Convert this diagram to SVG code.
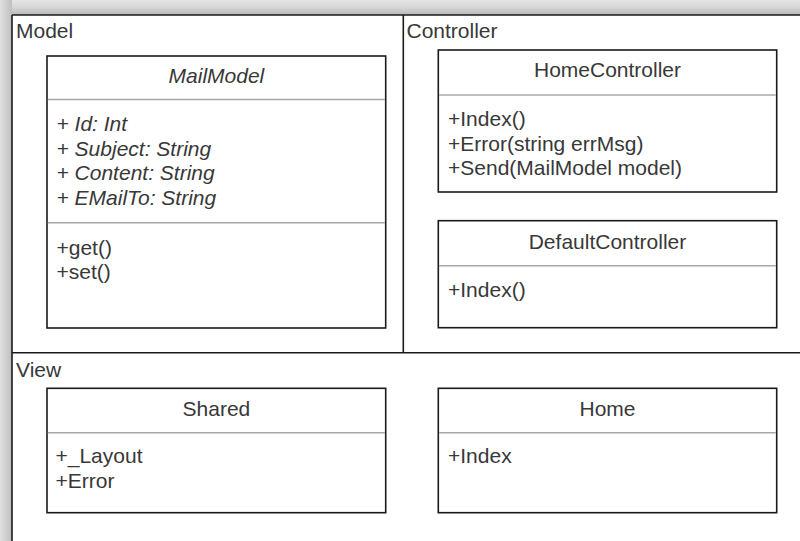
<svg xmlns="http://www.w3.org/2000/svg" width="800" height="541" viewBox="0 0 800 541">
  <defs>
    <linearGradient id="shTop" x1="0" y1="0" x2="0" y2="1">
      <stop offset="0" stop-color="#e4e4e4"/>
      <stop offset="0.5" stop-color="#d6d6d6"/>
      <stop offset="1" stop-color="#b8b8b8"/>
    </linearGradient>
    <linearGradient id="shLeft" x1="0" y1="0" x2="1" y2="0">
      <stop offset="0" stop-color="#e0e0e0"/>
      <stop offset="0.55" stop-color="#cecece"/>
      <stop offset="1" stop-color="#bebebe"/>
    </linearGradient>
  </defs>
  <style>
    .frame { fill: none; stroke: #1a1a1a; stroke-width: 1.6; }
    .box { fill: #ffffff; stroke: #1a1a1a; stroke-width: 1.6; }
    .sep { stroke: #a8a8a8; stroke-width: 1.6; }
    text { font-family: "Liberation Sans", Arial, sans-serif; font-size: 21px; fill: #383838; }
    .title { text-anchor: middle; }
    .it { font-style: italic; }
  </style>
  <rect x="0" y="0" width="800" height="541" fill="#ffffff"/>
  <rect x="0" y="0" width="800" height="15" fill="url(#shTop)"/>
  <rect x="0" y="0" width="12" height="541" fill="url(#shLeft)"/>

  <g id="frames">
    <line class="frame" x1="12" y1="15" x2="800" y2="15"/>
    <line class="frame" x1="12" y1="15" x2="12" y2="541"/>
    <line class="frame" x1="403.3" y1="15" x2="403.3" y2="352.7"/>
    <line class="frame" x1="12" y1="352.7" x2="800" y2="352.7"/>
  </g>

  <g id="pkg-model"><text x="16" y="37.5">Model</text></g>
  <g id="pkg-controller"><text x="406.5" y="37.5">Controller</text></g>
  <g id="pkg-view"><text x="16" y="376.5">View</text></g>

  <g id="MailModel">
    <rect class="box" x="47" y="56" width="338.7" height="272"/>
    <line class="sep" x1="47.8" y1="99.5" x2="384.9" y2="99.5"/>
    <line class="sep" x1="47.8" y1="222.7" x2="384.9" y2="222.7"/>
    <text class="title it" x="216.4" y="83">MailModel</text>
    <text class="it" x="56.5" y="131">+ Id: Int</text>
    <text class="it" x="56.5" y="155.5">+ Subject: String</text>
    <text class="it" x="56.5" y="180">+ Content: String</text>
    <text class="it" x="56.5" y="204.5">+ EMailTo: String</text>
    <text x="56.5" y="254.5">+get()</text>
    <text x="56.5" y="279">+set()</text>
  </g>

  <g id="HomeController">
    <rect class="box" x="438.3" y="50" width="338.4" height="142"/>
    <line class="sep" x1="439.1" y1="95" x2="775.9" y2="95"/>
    <text class="title" x="607.5" y="77">HomeController</text>
    <text x="448" y="126">+Index()</text>
    <text x="448" y="150.5">+Error(string errMsg)</text>
    <text x="448" y="175">+Send(MailModel model)</text>
  </g>

  <g id="DefaultController">
    <rect class="box" x="438.3" y="220.7" width="338.4" height="107"/>
    <line class="sep" x1="439.1" y1="265.7" x2="775.9" y2="265.7"/>
    <text class="title" x="607.5" y="249">DefaultController</text>
    <text x="448" y="297.3">+Index()</text>
  </g>

  <g id="Shared">
    <rect class="box" x="47" y="388.3" width="338.7" height="124.4"/>
    <line class="sep" x1="47.8" y1="432.7" x2="384.9" y2="432.7"/>
    <text class="title" x="216.4" y="415.7">Shared</text>
    <text x="55.5" y="463.3">+_Layout</text>
    <text x="55.5" y="488.3">+Error</text>
  </g>

  <g id="Home">
    <rect class="box" x="438.3" y="388.3" width="338.4" height="124.4"/>
    <line class="sep" x1="439.1" y1="432.7" x2="775.9" y2="432.7"/>
    <text class="title" x="607.5" y="415.7">Home</text>
    <text x="448" y="463.3">+Index</text>
  </g>

  <g id="connectors"></g>
</svg>
